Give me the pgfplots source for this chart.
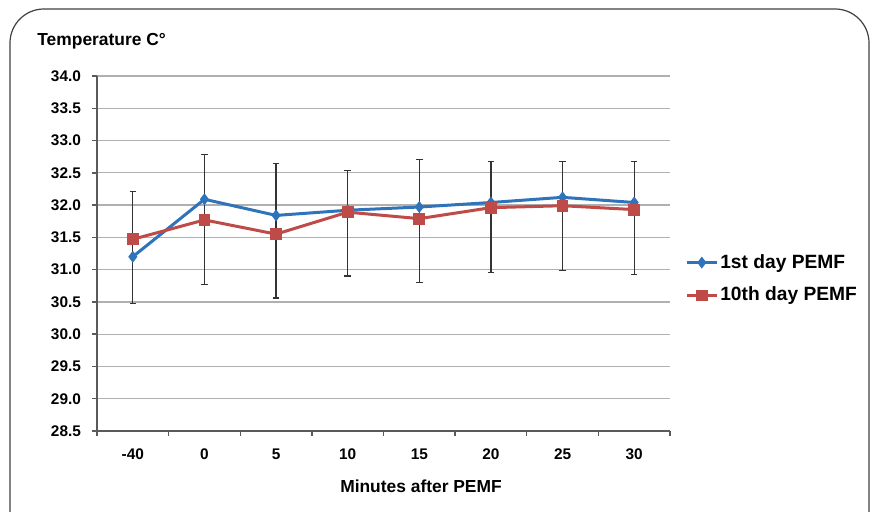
\documentclass[border=0pt]{standalone}
\usepackage{pgfplots}
\pgfplotsset{compat=1.18}
\usepackage{fontspec}
\setmainfont{Liberation Sans}
\definecolor{sblue}{HTML}{2F73BA}
\definecolor{sred}{HTML}{BE4B48}
\definecolor{gridgray}{HTML}{B0B0B0}
\definecolor{axgray}{HTML}{5A5A5A}
\begin{document}
\begin{tikzpicture}
\useasboundingbox (0,0) rectangle (435.5pt,256pt);
\begin{scope}
\clip (0,0) rectangle (435.5pt,256pt);
\draw[rounded corners=17pt, line width=0.6pt, black!75] (5pt,-20pt) rectangle (434.5pt,251.5pt);
\end{scope}
\node[anchor=base west, font=\bfseries\fontsize{8.7}{10}\selectfont, inner sep=0pt] at (18.5pt,233pt) {Temperature C°};
\node[anchor=base, font=\bfseries\fontsize{8.7}{10}\selectfont, inner sep=0pt] at (210.5pt,9.5pt) {Minutes after PEMF};
\begin{axis}[
  at={(48.5pt,40.5pt)}, anchor=south west,
  scale only axis, width=286.5pt, height=177.5pt,
  xmin=-0.5, xmax=7.5, ymin=28.5, ymax=34,
  axis lines=left, axis line style={-, axgray, line width=0.8pt},
  xtick={-0.5,0.5,1.5,2.5,3.5,4.5,5.5,6.5,7.5},
  xticklabels={-40,0,5,10,15,20,25,30},
  x tick label as interval,
  ytick={28.5,29,...,34},
  ymajorgrids, grid style={gridgray, line width=0.6pt},
  tick align=outside, major tick length=2.5pt,
  tick style={axgray, line width=0.7pt},
  /pgf/number format/.cd, fixed, fixed zerofill, precision=1, assume math mode=true,
  /pgfplots/.cd,
  tick label style={font=\bfseries\fontsize{7.7}{9}\selectfont},
  yticklabel style={xshift=-2pt},
  xticklabel style={yshift=-3pt},
  legend style={at={(1.026,0.428)}, anchor=west, draw=none, fill=none,
    font=\bfseries\fontsize{9.6}{11}\selectfont, row sep=4pt,
    inner sep=0pt, nodes={inner xsep=1pt}, cells={anchor=west}},
  legend image code/.code={\draw[mark repeat=2,mark phase=2,#1] plot coordinates {(0pt,0pt)(7.5pt,0pt)(15pt,0pt)};},
  legend cell align=left,
  clip=false,
]
% error bars (combined range, drawn behind the series)
\addplot[draw=none, mark=none, forget plot,
  error bars/.cd, y dir=both, y explicit,
  error bar style={black!80, line width=0.6pt},
  error mark options={rotate=90, mark size=1.6pt, black!80, line width=0.6pt}]
  coordinates {
  (0,31.34) +- (0,0.87)
  (1,31.775) +- (0,1.005)
  (2,31.60) +- (0,1.04)
  (3,31.72) +- (0,0.82)
  (4,31.755) +- (0,0.955)
  (5,31.815) +- (0,0.855)
  (6,31.83) +- (0,0.84)
  (7,31.805) +- (0,0.875)
  };
\addplot[sblue, line width=1.5pt, mark=diamond*, mark size=2.6pt, mark options={solid, fill=sblue, line width=0.5pt}]
  coordinates {(0,31.20) (1,32.09) (2,31.84) (3,31.92) (4,31.97) (5,32.04) (6,32.12) (7,32.04)};
\addlegendentry{1st day PEMF}
\addplot[sred, line width=1.5pt, mark=square*, mark size=2.7pt, mark options={solid, fill=sred, line width=0.5pt}]
  coordinates {(0,31.47) (1,31.77) (2,31.55) (3,31.89) (4,31.79) (5,31.96) (6,31.99) (7,31.93)};
\addlegendentry{10th day PEMF}
\end{axis}
\end{tikzpicture}
\end{document}
